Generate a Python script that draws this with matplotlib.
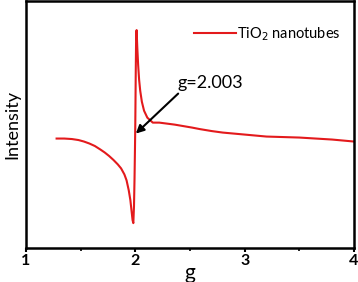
import numpy as np
import matplotlib.pyplot as plt

plt.rcParams['font.family'] = ['Lato', 'DejaVu Sans']

# EPR spectrum (arbitrary intensity units)
g_vals = [1.28, 1.35, 1.42, 1.48, 1.53, 1.58, 1.63, 1.68, 1.72, 1.76, 1.80, 1.84,
          1.87, 1.90, 1.92, 1.94, 1.955, 1.965, 1.975, 1.982, 1.988, 1.993,
          1.997, 2.0, 2.004, 2.008, 2.012, 2.018, 2.026, 2.035, 2.045, 2.06,
          2.08, 2.11, 2.16, 2.22, 2.29, 2.36, 2.44, 2.52, 2.59, 2.7, 2.8, 2.9,
          3.0, 3.2, 3.5, 3.8, 4.0]
intensity = [110, 110, 109.5, 108.5, 107, 105, 102.5, 99, 96, 92.5, 88.5, 84,
             80, 74, 68, 58, 48, 38, 28, 25, 42, 70,
             100, 125, 175, 216, 219, 202, 184, 169, 158, 147,
             138, 131, 126, 126, 125, 124, 122.5, 121, 119.5, 117.5, 116, 115,
             114, 112, 111, 109, 107]

fig = plt.figure(figsize=(3.58, 2.82), dpi=100)
ax = fig.add_axes([0.0726, 0.1206, 0.916, 0.875])

ax.plot(g_vals, intensity, color='#e31a1c', lw=1.5, label='TiO$_2$ nanotubes')

ax.set_xlim(1, 4)
ax.set_ylim(0, 248)
ax.set_xticks([1, 2, 3, 4])
ax.set_xticks([1.5, 2.5, 3.5], minor=True)
ax.set_yticks([])
ax.tick_params(axis='x', which='major', direction='out', length=3, width=1.5,
               labelsize=11.5, pad=1)
ax.tick_params(axis='x', which='minor', direction='out', length=2, width=1.2)
for lbl in ax.get_xticklabels():
    lbl.set_fontweight('bold')
for sp in ax.spines.values():
    sp.set_linewidth(1.8)

ax.set_xlabel('g', fontsize=15, labelpad=-3)
ax.set_ylabel('Intensity', fontsize=13, labelpad=4)

ax.annotate('g=2.003', xy=(2.005, 115), xytext=(2.39, 166), fontsize=13,
            arrowprops=dict(arrowstyle='-|>', color='black', lw=1.5,
                            mutation_scale=12, shrinkA=0, shrinkB=0,
                            relpos=(0.1, 0.2)),
            ha='left', va='center')

leg = ax.legend(loc='upper right', frameon=False, fontsize=10.5,
                handlelength=2.9, handletextpad=0.05,
                bbox_to_anchor=(1.0, 0.955))

fig.savefig('out.png', dpi=100)
